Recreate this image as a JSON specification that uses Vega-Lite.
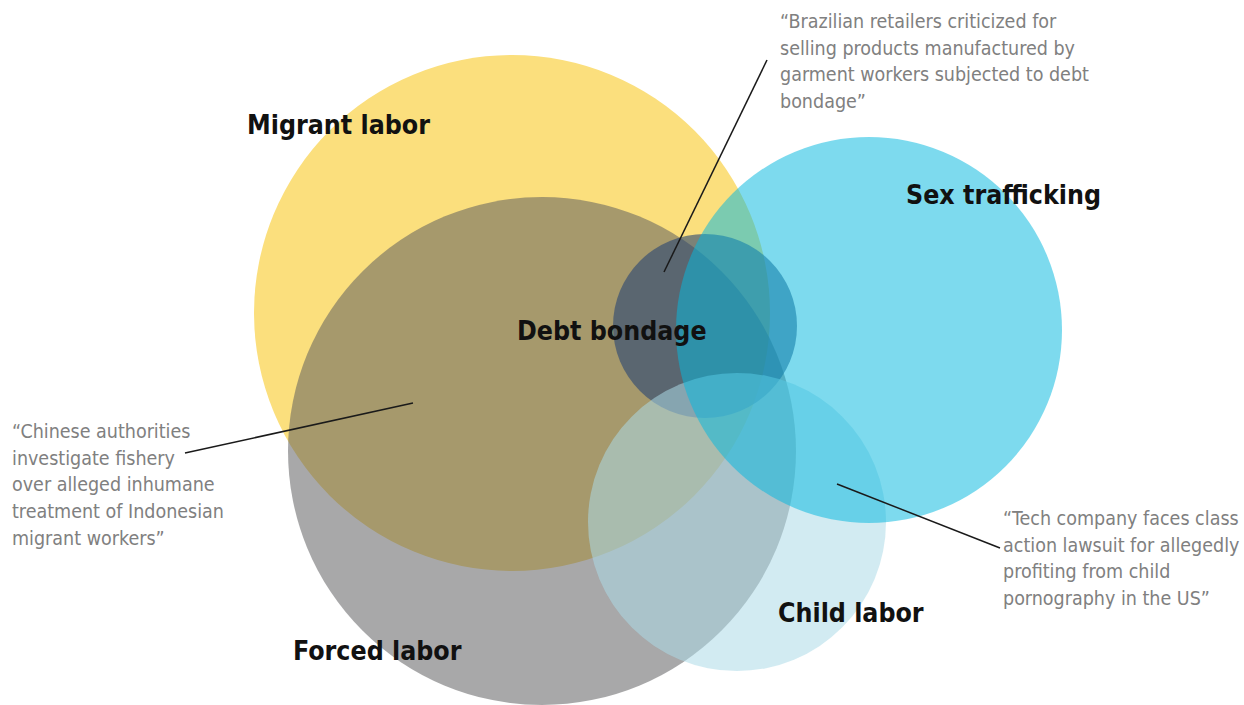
{
  "$schema": "https://vega.github.io/schema/vega-lite/v6.json",
  "width": 1244,
  "height": 705,
  "autosize": {"type": "fit", "contains": "padding"},
  "padding": 0,
  "background": "#ffffff",
  "config": {"view": {"stroke": null}},
  "datasets": {
    "circles": [
      {"name": "Migrant labor", "cx": 512, "cy": 313, "r": 258},
      {"name": "Forced labor", "cx": 542, "cy": 451, "r": 254},
      {"name": "Debt bondage", "cx": 705, "cy": 326, "r": 92},
      {"name": "Child labor", "cx": 737, "cy": 522, "r": 149},
      {"name": "Sex trafficking", "cx": 869, "cy": 330, "r": 193}
    ],
    "labels": [
      {"text": "Migrant labor", "x": 247, "y": 134},
      {"text": "Sex trafficking", "x": 906, "y": 204},
      {"text": "Debt bondage", "x": 517, "y": 340},
      {"text": "Child labor", "x": 778, "y": 622},
      {"text": "Forced labor", "x": 293, "y": 660}
    ],
    "quotes": [
      {"text": "“Brazilian retailers criticized for\nselling products manufactured by\ngarment workers subjected to debt\nbondage”", "x": 780, "y": 28},
      {"text": "“Chinese authorities\ninvestigate fishery\nover alleged inhumane\ntreatment of Indonesian\nmigrant workers”", "x": 12, "y": 438},
      {"text": "“Tech company faces class\naction lawsuit for allegedly\nprofiting from child\npornography in the US”", "x": 1003, "y": 525}
    ],
    "leaders": [
      {"x": 664, "y": 272, "x2": 767, "y2": 60},
      {"x": 413, "y": 403, "x2": 185, "y2": 453},
      {"x": 837, "y": 484, "x2": 1000, "y2": 548}
    ]
  },
  "layer": [
    {
      "data": {"name": "circles"},
      "mark": {"type": "point", "shape": "circle", "filled": true, "strokeWidth": 0, "clip": true},
      "encoding": {
        "x": {"field": "cx", "type": "quantitative", "scale": {"domain": [0, 1244], "nice": false, "zero": false}, "axis": null},
        "y": {"field": "cy", "type": "quantitative", "scale": {"domain": [0, 705], "nice": false, "zero": false, "reverse": true}, "axis": null},
        "size": {"field": "r", "type": "quantitative", "scale": {"type": "pow", "exponent": 2, "domain": [0, 300], "range": [0, 360000]}, "legend": null},
        "color": {"field": "name", "type": "nominal", "scale": {"type": "ordinal", "domain": ["Migrant labor", "Forced labor", "Debt bondage", "Child labor", "Sex trafficking"], "range": ["#fbdf7d", "#5a5b5d", "#284473", "#acdae7", "#06b8df"]}, "legend": null},
        "opacity": {"field": "name", "type": "nominal", "scale": {"type": "ordinal", "domain": ["Migrant labor", "Forced labor", "Debt bondage", "Child labor", "Sex trafficking"], "range": [1, 0.53, 0.6, 0.54, 0.52]}, "legend": null}
      }
    },
    {
      "data": {"name": "leaders"},
      "mark": {"type": "rule", "color": "#1a1a1a", "strokeWidth": 1.5, "clip": true},
      "encoding": {
        "x": {"field": "x", "type": "quantitative"},
        "y": {"field": "y", "type": "quantitative"},
        "x2": {"field": "x2"},
        "y2": {"field": "y2"}
      }
    },
    {
      "data": {"name": "labels"},
      "mark": {"type": "text", "align": "left", "baseline": "alphabetic", "font": "Noto Sans Condensed, DejaVu Sans Condensed, sans-serif", "fontWeight": "bold", "fontSize": 26.5, "color": "#111111", "clip": true},
      "encoding": {
        "x": {"field": "x", "type": "quantitative"},
        "y": {"field": "y", "type": "quantitative"},
        "text": {"field": "text"}
      }
    },
    {
      "data": {"name": "quotes"},
      "mark": {"type": "text", "align": "left", "baseline": "alphabetic", "font": "Noto Sans Condensed, DejaVu Sans Condensed, sans-serif", "fontSize": 19.5, "lineHeight": 26.7, "lineBreak": "\n", "color": "#808080", "clip": true},
      "encoding": {
        "x": {"field": "x", "type": "quantitative"},
        "y": {"field": "y", "type": "quantitative"},
        "text": {"field": "text"}
      }
    }
  ]
}
